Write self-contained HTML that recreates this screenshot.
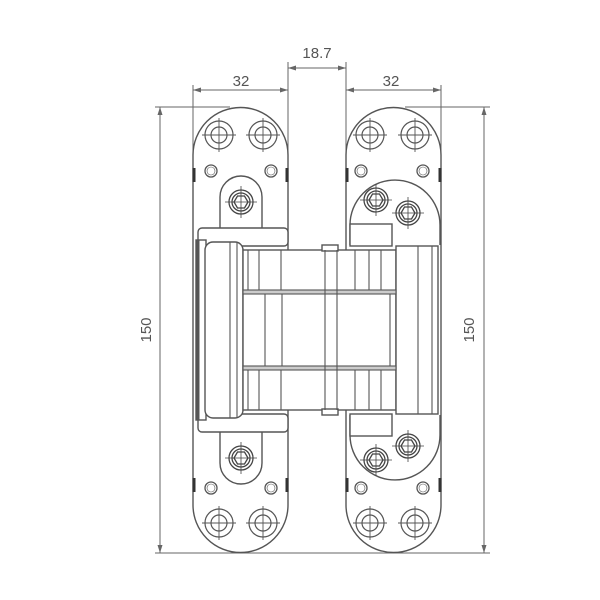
<!DOCTYPE html>
<html><head><meta charset="utf-8"><style>
html,body{margin:0;padding:0;background:#fff}
svg{display:block}
text{font-family:"Liberation Sans",sans-serif;font-size:15px;fill:#555}
</style></head><body>
<svg width="600" height="600" viewBox="0 0 600 600" xmlns="http://www.w3.org/2000/svg">
<defs>
<g id="hole" stroke="#555" fill="none" stroke-width="1.2">
<circle r="14"/><circle r="8"/><line x1="-17" y1="0" x2="17" y2="0" stroke-width="0.9"/><line x1="0" y1="-17" x2="0" y2="17" stroke-width="0.9"/>
</g>
<g id="sm" stroke="#555" fill="none" stroke-width="1.3"><circle r="6"/><circle r="4" stroke-width="0.6"/></g>
<g id="scr" stroke="#444" fill="none" stroke-width="1.3">
<circle r="12"/><circle r="9"/><polygon points="7,0 3.5,6 -3.5,6 -7,0 -3.5,-6 3.5,-6"/><line x1="-16" y1="0" x2="16" y2="0" stroke-width="0.8"/><line x1="0" y1="-16" x2="0" y2="16" stroke-width="0.8"/>
</g>
</defs>
<g stroke="#666" stroke-width="1" fill="none">
<!-- extension lines -->
<line x1="155" y1="107" x2="230" y2="107"/>
<line x1="405" y1="107" x2="490" y2="107"/>
<line x1="155" y1="553" x2="490" y2="553"/>
<line x1="193" y1="85" x2="193" y2="230"/>
<line x1="288" y1="62" x2="288" y2="230"/>
<line x1="346" y1="62" x2="346" y2="230"/>
<line x1="441" y1="85" x2="441" y2="230"/>
<!-- dims -->
<line x1="193" y1="90" x2="288" y2="90"/>
<line x1="346" y1="90" x2="441" y2="90"/>
<line x1="288" y1="68" x2="346" y2="68"/>
<line x1="160" y1="107" x2="160" y2="553"/>
<line x1="484" y1="107" x2="484" y2="553"/>
</g>
<g fill="#666">
<polygon points="193,90 201,87.5 201,92.5"/><polygon points="288,90 280,87.5 280,92.5"/>
<polygon points="346,90 354,87.5 354,92.5"/><polygon points="441,90 433,87.5 433,92.5"/>
<polygon points="288,68 296,65.5 296,70.5"/><polygon points="346,68 338,65.5 338,70.5"/>
<polygon points="160,107 157.5,115 162.5,115"/><polygon points="160,553 157.5,545 162.5,545"/>
<polygon points="484,107 481.5,115 486.5,115"/><polygon points="484,553 481.5,545 486.5,545"/>
</g>
<text x="241" y="86" text-anchor="middle">32</text>
<text x="391" y="86" text-anchor="middle">32</text>
<text x="317" y="58" text-anchor="middle">18.7</text>
<text transform="translate(151,330) rotate(-90)" text-anchor="middle">150</text>
<text transform="translate(474,330) rotate(-90)" text-anchor="middle">150</text>

<g stroke="#555" stroke-width="1.4" fill="#fff">
<!-- plates -->
<path d="M193,155 A47.5,47.5 0 0 1 288,155 L288,505 A47.5,47.5 0 0 1 193,505 Z"/>
<path d="M346,155 A47.5,47.5 0 0 1 441,155 L441,505 A47.5,47.5 0 0 1 346,505 Z"/>
<!-- left pockets -->
<path d="M220,228 L220,197 A21,21 0 0 1 262,197 L262,228" />
<path d="M220,432 L220,463 A21,21 0 0 0 262,463 L262,432" />
<!-- right pockets -->
<path d="M350,245 L350,225 A45,45 0 0 1 440,225 L440,245" />
<path d="M350,415 L350,435 A45,45 0 0 0 440,435 L440,415" />
<!-- body -->
<rect x="198" y="228" width="90" height="18" rx="4"/>
<rect x="198" y="414" width="90" height="18" rx="4"/>
<rect x="196" y="240" width="10" height="180" fill="#fff"/>
<rect x="205" y="242" width="38" height="176" rx="8"/>
<rect x="243" y="250" width="153" height="160"/>
<rect x="396" y="246" width="42" height="168"/>
<rect x="350" y="224" width="42" height="22"/>
<rect x="350" y="414" width="42" height="22"/>
<rect x="322" y="245" width="16" height="6"/>
<rect x="322" y="409" width="16" height="6"/>
</g>
<g stroke="#555" stroke-width="1.1" fill="none">
<rect x="243" y="290" width="153" height="4" fill="#ccc"/>
<rect x="243" y="366" width="153" height="4" fill="#ccc"/>
<line x1="248" y1="250" x2="248" y2="290"/><line x1="259" y1="250" x2="259" y2="290"/><line x1="281" y1="250" x2="281" y2="290"/>
<line x1="248" y1="370" x2="248" y2="410"/><line x1="259" y1="370" x2="259" y2="410"/><line x1="281" y1="370" x2="281" y2="410"/>
<line x1="265" y1="294" x2="265" y2="366"/><line x1="282" y1="294" x2="282" y2="366"/>
<line x1="325" y1="250" x2="325" y2="410"/><line x1="337" y1="250" x2="337" y2="410"/>
<line x1="355" y1="250" x2="355" y2="290"/><line x1="369" y1="250" x2="369" y2="290"/><line x1="381" y1="250" x2="381" y2="290"/>
<line x1="355" y1="370" x2="355" y2="410"/><line x1="369" y1="370" x2="369" y2="410"/><line x1="381" y1="370" x2="381" y2="410"/>
<line x1="390" y1="294" x2="390" y2="366"/>
<line x1="418" y1="246" x2="418" y2="414"/><line x1="432" y1="246" x2="432" y2="414"/>
<line x1="198" y1="240" x2="198" y2="420" stroke-width="3"/>
<line x1="230" y1="242" x2="230" y2="418"/><line x1="237" y1="242" x2="237" y2="418"/>
</g>
<g stroke="#333" stroke-width="3">
<line x1="194" y1="168" x2="194" y2="182"/><line x1="287" y1="168" x2="287" y2="182"/>
<line x1="194" y1="478" x2="194" y2="492"/><line x1="287" y1="478" x2="287" y2="492"/>
<line x1="347" y1="168" x2="347" y2="182"/><line x1="440" y1="168" x2="440" y2="182"/>
<line x1="347" y1="478" x2="347" y2="492"/><line x1="440" y1="478" x2="440" y2="492"/>
</g>
<use href="#hole" x="219" y="135"/><use href="#hole" x="263" y="135"/>
<use href="#hole" x="370" y="135"/><use href="#hole" x="415" y="135"/>
<use href="#hole" x="219" y="523"/><use href="#hole" x="263" y="523"/>
<use href="#hole" x="370" y="523"/><use href="#hole" x="415" y="523"/>
<use href="#sm" x="211" y="171"/><use href="#sm" x="271" y="171"/>
<use href="#sm" x="361" y="171"/><use href="#sm" x="423" y="171"/>
<use href="#sm" x="211" y="488"/><use href="#sm" x="271" y="488"/>
<use href="#sm" x="361" y="488"/><use href="#sm" x="423" y="488"/>
<use href="#scr" x="241" y="202"/><use href="#scr" x="241" y="458"/>
<use href="#scr" x="376" y="200"/><use href="#scr" x="408" y="213"/>
<use href="#scr" x="376" y="460"/><use href="#scr" x="408" y="446"/>
</svg>
</body></html>
